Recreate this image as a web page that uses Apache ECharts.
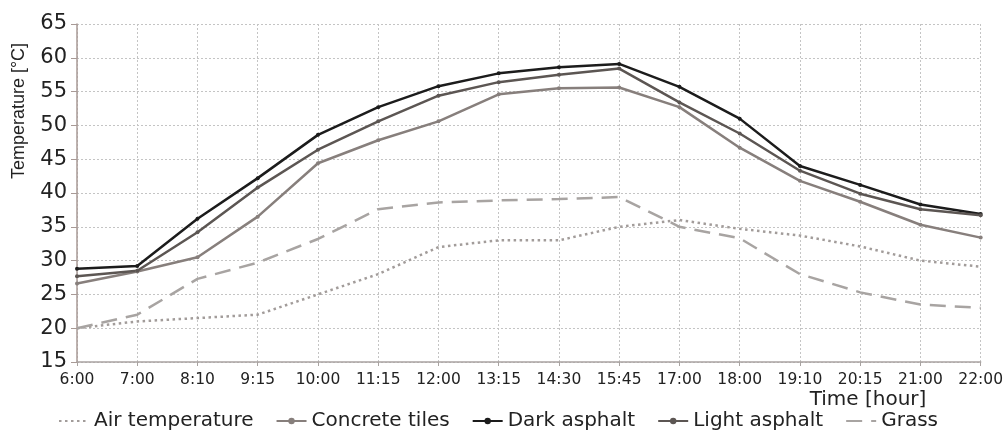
<!DOCTYPE html>
<html>
<head>
<meta charset="utf-8">
<script src="https://cdn.jsdelivr.net/npm/echarts@6/dist/echarts.min.js"></script>
<style>
html,body{margin:0;padding:0;background:#fff;}
#chart{width:1006px;height:437px;}
</style>
</head>
<body>
<div id="chart"></div>
<script>
const categories = ['6:00','7:00','8:10','9:15','10:00','11:15','12:00','13:15','14:30','15:45','17:00','18:00','19:10','20:15','21:00','22:00'];
const airTemperature = [20, 21, 21.5, 22, 25, 28, 32, 33, 33, 35, 36, 34.7, 33.7, 32.1, 30, 29.1];
const concreteTiles = [26.6, 28.4, 30.5, 36.5, 44.4, 47.8, 50.6, 54.6, 55.5, 55.6, 52.7, 46.7, 41.8, 38.7, 35.3, 33.4];
const darkAsphalt = [28.8, 29.2, 36.2, 42.2, 48.6, 52.7, 55.8, 57.7, 58.6, 59.1, 55.7, 51.0, 44.0, 41.2, 38.3, 36.9];
const lightAsphalt = [27.7, 28.5, 34.2, 40.8, 46.4, 50.6, 54.4, 56.4, 57.5, 58.4, 53.4, 48.8, 43.3, 39.9, 37.6, 36.7];
const grass = [20, 22, 27.3, 29.7, 33.2, 37.6, 38.6, 38.9, 39.1, 39.4, 35.0, 33.3, 28.0, 25.3, 23.5, 23.0];
const yTicks = {min: 15, max: 65, interval: 5};

const chart = echarts.init(document.getElementById('chart'));
const sym = {symbol: 'circle', symbolSize: 4, showSymbol: true};
chart.setOption({
  animation: false,
  backgroundColor: '#fff',
  grid: {left: 77, right: 24, top: 24, bottom: 75},
  legend: {
    left: 53, bottom: 1, itemWidth: 30, itemHeight: 8, itemGap: 22,
    textStyle: {fontFamily: 'DejaVu Sans', fontSize: 20, color: '#222'},
    data: [
      {name: 'Air temperature', itemStyle: {opacity: 0}},
      {name: 'Concrete tiles'},
      {name: 'Dark asphalt'},
      {name: 'Light asphalt'},
      {name: 'Grass', itemStyle: {opacity: 0}}
    ]
  },
  xAxis: {
    type: 'category', data: categories, boundaryGap: false,
    axisLine: {lineStyle: {color: '#a9a3a1', width: 1.5}},
    axisTick: {show: true, length: 4, lineStyle: {color: '#a9a3a1'}},
    axisLabel: {fontFamily: 'DejaVu Sans', fontSize: 15.5, color: '#222', margin: 10},
    splitLine: {show: true, lineStyle: {color: '#c4c4c4', type: [2, 2], width: 1}}
  },
  yAxis: {
    type: 'value', min: yTicks.min, max: yTicks.max, interval: yTicks.interval,
    axisLine: {show: true, lineStyle: {color: '#a89a96', width: 1.5}},
    axisTick: {show: true, length: 6, lineStyle: {color: '#a89a96'}},
    axisLabel: {fontFamily: 'DejaVu Sans', fontSize: 21, color: '#222', margin: 10},
    splitLine: {show: true, lineStyle: {color: '#c4c4c4', type: [2, 2], width: 1}}
  },
  graphic: [
    {type: 'text', x: 19, y: 111, rotation: Math.PI / 2,
      style: {text: 'Temperature [°C]', fontFamily: 'Liberation Sans', fontSize: 18, fill: '#222', align: 'center', verticalAlign: 'middle'}},
    {type: 'text', x: 868, y: 400,
      style: {text: 'Time [hour]', fontFamily: 'DejaVu Sans', fontSize: 20, fill: '#222', align: 'center', verticalAlign: 'middle'}}
  ],
  series: [
    {name: 'Air temperature', type: 'line', data: airTemperature, symbol: 'none',
      lineStyle: {color: '#a29c9a', width: 2.5, type: [2.5, 3.5]}, itemStyle: {color: '#a29c9a'}},
    Object.assign({name: 'Concrete tiles', type: 'line', data: concreteTiles,
      lineStyle: {color: '#877f7c', width: 2.5}, itemStyle: {color: '#877f7c'}}, sym),
    Object.assign({name: 'Dark asphalt', type: 'line', data: darkAsphalt,
      lineStyle: {color: '#1c1c1c', width: 2.5}, itemStyle: {color: '#1c1c1c'}}, sym),
    Object.assign({name: 'Light asphalt', type: 'line', data: lightAsphalt,
      lineStyle: {color: '#5c5653', width: 2.5}, itemStyle: {color: '#5c5653'}}, sym),
    {name: 'Grass', type: 'line', data: grass, symbol: 'none',
      lineStyle: {color: '#a8a4a2', width: 2.5, type: [16, 9]}, itemStyle: {color: '#a8a4a2'}}
  ]
});
</script>
</body>
</html>
